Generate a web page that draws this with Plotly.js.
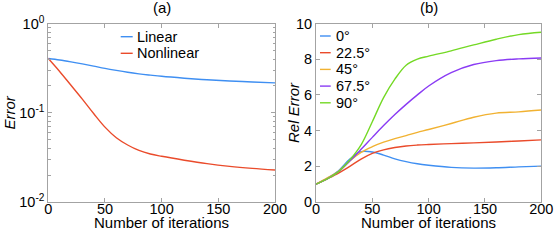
<!DOCTYPE html>
<html><head><meta charset="utf-8">
<script src="https://cdn.plot.ly/plotly-3.0.1.min.js"></script>
<style>html,body{margin:0;padding:0;background:#fff}#chart{width:554px;height:241px}</style>
</head><body><div id="chart"></div>
<script>
// ---- data ----
const iterations = [0,10,20,30,40,50,60,70,80,90,100,120,140,160,180,200];

const errorNames = ['Linear','Nonlinear'];
const errorLinear    = [0.405,0.39,0.372,0.353,0.333,0.314,0.298,0.284,0.273,0.264,0.256,0.244,0.234,0.227,0.221,0.216];
const errorNonlinear = [0.405,0.29,0.203,0.142,0.098,0.069,0.0525,0.0435,0.0378,0.0345,0.0325,0.0294,0.0269,0.0251,0.0238,0.0228];

const angleNames = ['0°','22.5°','45°','67.5°','90°'];
const rel0   = [1,1.32,1.75,2.4,2.82,2.8,2.63,2.42,2.26,2.14,2.06,1.94,1.9,1.92,1.97,2.01];
const rel225 = [1,1.3,1.62,2.0,2.4,2.72,2.92,3.05,3.14,3.19,3.22,3.27,3.31,3.36,3.42,3.48];
const rel45  = [1,1.35,1.72,2.3,2.78,3.1,3.35,3.55,3.72,3.9,4.06,4.4,4.75,4.98,5.05,5.15];
const rel675 = [1,1.3,1.7,2.3,2.95,3.62,4.28,4.9,5.47,6.0,6.5,7.25,7.7,7.92,8.02,8.07];
const rel90  = [1,1.3,1.7,2.35,3.2,4.5,5.85,6.88,7.66,8.0,8.17,8.47,8.8,9.12,9.38,9.51];

const xTicks = [0,50,100,150,200];
const logTickVals = [1,0.1,0.01];
const logTickText = ['10<sup>0</sup>','10<sup>-1</sup>','10<sup>-2</sup>'];
const relTicks = [0,2,4,6,8,10];
const xTitle = 'Number of iterations';
const yTitleA = 'Error';
const yTitleB = 'Rel Error';
const panelTitles = ['(a)','(b)'];

// ---- styling ----
const errColors = ['#3f8ff2','#ea4b2b'];
const relColors = ['#3f8ff2','#ea4b2b','#f1b232','#8a3bf4','#74d925'];
const FONT = 'Arial, sans-serif';
const FS = 15;
const TFS = 14.5;
const FRAME = '#a3a3a3';
const LW = 1.4;

const relSeries = [rel0, rel225, rel45, rel675, rel90];
const errSeries = [errorLinear, errorNonlinear];

const traces = [];
errSeries.forEach((s,i)=>traces.push({x:iterations,y:s,name:errorNames[i],type:'scatter',mode:'lines',
  line:{color:errColors[i],width:LW,shape:'spline',smoothing:1},xaxis:'x',yaxis:'y',showlegend:false}));
relSeries.forEach((s,i)=>traces.push({x:iterations,y:s,name:angleNames[i],type:'scatter',mode:'lines',
  line:{color:relColors[i],width:LW,shape:'spline',smoothing:1},xaxis:'x2',yaxis:'y2',showlegend:false}));

// minor log ticks positions
const minorLog = [];
[0.01,0.1].forEach(d=>{for(let k=2;k<=9;k++) minorLog.push(d*k);});

const W=554,H=241;
const px = v=>v/W, py = v=>(H-v)/H;

const axBase = {showline:true,linecolor:FRAME,linewidth:1,mirror:'ticks',ticks:'inside',ticklen:4,
  tickcolor:FRAME,tickwidth:1,showgrid:false,zeroline:false,
  tickfont:{family:FONT,size:TFS,color:'#000'}};

const layout = {
  width:W,height:H,margin:{l:0,r:0,t:0,b:0,pad:0},
  paper_bgcolor:'#fff',plot_bgcolor:'#fff',showlegend:false,
  font:{family:FONT,color:'#000'},
  xaxis:Object.assign({},axBase,{domain:[px(48.3),px(275)],range:[0,200],tickmode:'array',tickvals:xTicks,anchor:'y',ticklabelstandoff:-6}),
  yaxis:Object.assign({},axBase,{domain:[py(202),py(23.5)],type:'log',range:[-2,0],tickmode:'array',
    tickvals:logTickVals,ticktext:logTickText,anchor:'x',
    minor:{tickmode:'array',tickvals:minorLog,ticks:'inside',ticklen:2.5,tickcolor:FRAME,showgrid:false}}),
  xaxis2:Object.assign({},axBase,{domain:[px(316),px(541.3)],range:[0,200],tickmode:'array',tickvals:xTicks,anchor:'y2',ticklabelstandoff:-6}),
  yaxis2:Object.assign({},axBase,{domain:[py(202),py(23.5)],range:[0,10],tickmode:'array',tickvals:relTicks,anchor:'x2'}),
  annotations:[],shapes:[]
};

function ann(text,x,y,opts){
  layout.annotations.push(Object.assign({text:text,xref:'paper',yref:'paper',x:px(x),y:py(y),xanchor:'center',yanchor:'middle',
    showarrow:false,font:{family:FONT,size:FS,color:'#000'}},opts||{}));
}
// panel titles
ann(panelTitles[0],161.6,8);
ann(panelTitles[1],428.7,8);
// axis titles
ann(xTitle,161.6,222.5);
ann(xTitle,428.7,222.5);
ann('<i>'+yTitleA+'</i>',8.5,113,{textangle:-90});
ann('<i>'+yTitleB+'</i>',293,113,{textangle:-90});

// legends (line samples + text)
function legendRows(names, colors, x0, x1, xt, y0, dy){
  names.forEach((n,i)=>{
    const y = y0 + i*dy;
    layout.shapes.push({type:'line',xref:'paper',yref:'paper',x0:px(x0),x1:px(x1),y0:py(y),y1:py(y),line:{color:colors[i],width:LW}});
    ann(n,xt,y,{xanchor:'left',font:{family:FONT,size:14.5,color:'#000'}});
  });
}
legendRows(errorNames, errColors, 120.7, 132.7, 134.5, 36.7, 16.6);
legendRows(angleNames, relColors, 320, 330.7, 333.5, 36, 16.7);

Plotly.newPlot('chart', traces, layout, {staticPlot:true,displayModeBar:false});
</script>
</body></html>
